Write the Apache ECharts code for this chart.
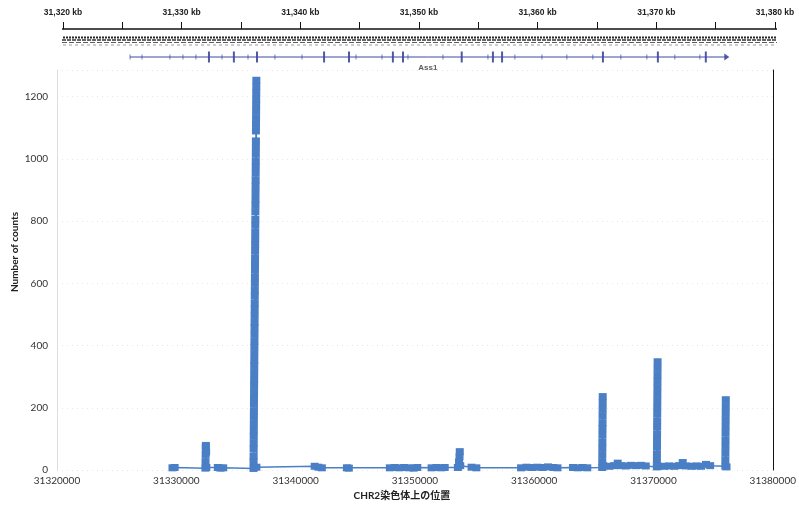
<!DOCTYPE html>
<html>
<head>
<meta charset="utf-8">
<script src="https://cdn.jsdelivr.net/npm/echarts/dist/echarts.min.js"></script>
<style>
  html, body { margin: 0; padding: 0; background: #ffffff; }
  #chart { width: 799px; height: 506px; }
</style>
</head>
<body>
<div id="chart"></div>
<script>
// ---- Ass1 locus read counts along CHR2 (position in bp, count) ----
const exon01 = [[31329680, 7], [31329860, 8]];
const exon02 = [[31332440, 6], [31332450, 27], [31332460, 50], [31332470, 72], [31332480, 79], [31332500, 58], [31332520, 8]];
const exon03 = [[31333480, 8], [31333700, 6], [31333930, 7]];
const exon04 = [
  [31336470, 5], [31336474, 26], [31336478, 44], [31336482, 67], [31336486, 86], [31336490, 108],
  [31336494, 127], [31336498, 149], [31336502, 170], [31336506, 189], [31336510, 211], [31336514, 230],
  [31336518, 252], [31336522, 273], [31336526, 291], [31336530, 313], [31336534, 334], [31336538, 352],
  [31336542, 374], [31336546, 395], [31336550, 414], [31336554, 436], [31336558, 457], [31336562, 475],
  [31336566, 497], [31336570, 518], [31336574, 537], [31336578, 559], [31336582, 578], [31336586, 600],
  [31336590, 620], [31336594, 642], [31336598, 663], [31336602, 682], [31336606, 704], [31336610, 725],
  [31336614, 744], [31336618, 765], [31336622, 787], [31336626, 806], [31336630, 830], [31336634, 851],
  [31336638, 870], [31336642, 892], [31336646, 913], [31336650, 932], [31336654, 954], [31336658, 975],
  [31336662, 994], [31336666, 1016], [31336670, 1037], [31336674, 1058], [31336678, 1090], [31336682, 1111],
  [31336686, 1132], [31336690, 1153], [31336694, 1173], [31336698, 1192], [31336702, 1213], [31336706, 1233],
  [31336710, 1253], [31336714, 9]
];
const exon05 = [[31341600, 12], [31341900, 9], [31342200, 7]];
const exon06 = [[31344300, 7], [31344460, 6]];
const exon07 = [[31347900, 7], [31348300, 8], [31348700, 7], [31349100, 8], [31349500, 7], [31349900, 6], [31350200, 8]];
const exon08 = [[31351400, 7], [31351800, 8], [31352200, 7], [31352500, 8]];
const exon09 = [[31353600, 8], [31353700, 26], [31353740, 42], [31353760, 59], [31353800, 14]];
const exon10 = [[31354750, 9], [31355150, 7]];
const exon11 = [[31358900, 7], [31359350, 9], [31359800, 8], [31360250, 9], [31360700, 8], [31361150, 10], [31361600, 8], [31361950, 7]];
const exon12 = [[31363250, 8], [31363650, 7], [31364050, 8], [31364450, 7]];
const exon13 = [
  [31365700, 8], [31365704, 27], [31365708, 49], [31365712, 70], [31365716, 90], [31365720, 112],
  [31365724, 133], [31365728, 152], [31365732, 174], [31365736, 195], [31365740, 216], [31365744, 236],
  [31365790, 14]
];
const exon14 = [[31366300, 12], [31366700, 14], [31367000, 22], [31367300, 14], [31367700, 13], [31368100, 15], [31368550, 14], [31368950, 15], [31369350, 13]];
const exon15 = [
  [31370280, 10], [31370284, 31], [31370288, 52], [31370292, 74], [31370296, 95], [31370300, 116],
  [31370304, 138], [31370308, 158], [31370312, 180], [31370316, 201], [31370320, 222], [31370324, 243],
  [31370328, 265], [31370332, 286], [31370336, 306], [31370340, 327], [31370344, 348], [31370380, 12]
];
const exon16 = [[31370900, 12], [31371300, 13], [31371750, 12], [31372150, 14], [31372450, 24], [31372750, 13], [31373200, 12], [31373600, 13], [31374000, 12], [31374400, 18], [31374750, 14]];
const exon17 = [
  [31376020, 12], [31376024, 33], [31376028, 55], [31376032, 76], [31376036, 97], [31376040, 119],
  [31376044, 140], [31376048, 162], [31376052, 183], [31376056, 204], [31376060, 226], [31376120, 10]
];

// ---- gene model track (bp) ----
const geneSpan = [31325650, 31375940];
const geneExons = [31332300, 31334400, 31336350, 31342000, 31344100, 31347800, 31348650,
                   31353600, 31356230, 31357000, 31365500, 31370130, 31374170];
const intronMarks = [31325650, 31326660, 31329010, 31330110, 31331200, 31333400, 31335590, 31337860,
                     31340140, 31344690, 31346880, 31349070, 31352020, 31355810, 31358080, 31360360,
                     31362460, 31364650, 31367010, 31369200, 31371560, 31373670];
const rulerSpan = [31316967, 31382005];
const readRows = [8.5, 11, 13.5, 16];
const geneName = 'Ass1';

const countSeries = [].concat(exon01, exon02, exon03, exon04, exon05, exon06, exon07, exon08,
  exon09, exon10, exon11, exon12, exon13, exon14, exon15, exon16, exon17);

const blue = '#4a7fc6';
const geneRow = 28;
const labelRow = 39;

const readStyles = [
  { color: '#262626', width: 2.0, type: [2, 1] },
  { color: '#333333', width: 1.5, type: [4, 1] },
  { color: '#5e5e5e', width: 1.2, type: [5, 2] },
  { color: '#9a9a9a', width: 1.0, type: [3, 3] }
];

const plainNumber = function (v) { return String(v); };

const chart = echarts.init(document.getElementById('chart'), null, { renderer: 'canvas' });

const option = {
  animation: false,
  backgroundColor: '#ffffff',
  grid: [
    { left: 57, right: 22, top: 70, bottom: 35 },
    { left: 63, right: 24, top: 29, height: 40 }
  ],
  xAxis: [
    {
      type: 'value', gridIndex: 0,
      min: 31320000, max: 31380000, interval: 10000,
      axisLine: { show: false },
      axisTick: { show: false },
      splitLine: { show: false },
      axisLabel: { color: '#333', fontSize: 10, fontFamily: 'Lato', margin: 6, formatter: plainNumber },
      name: 'CHR2染色体上の位置',
      nameLocation: 'middle',
      nameGap: 21,
      nameTextStyle: {
        color: '#222', fontSize: 10, fontWeight: 'bold',
        fontFamily: 'Lato, "Noto Sans CJK JP"', padding: [0, 26, 0, 0]
      }
    },
    {
      type: 'value', gridIndex: 1, position: 'top',
      min: 31320000, max: 31380000, interval: 5000,
      axisLine: { show: false },
      axisTick: { show: true, length: 7, lineStyle: { color: '#111', width: 1 } },
      splitLine: { show: false },
      axisLabel: {
        margin: 12, color: '#222', fontSize: 8.5, fontWeight: 'bold', fontFamily: 'Liberation Sans',
        formatter: function (v) {
          return v % 10000 === 0 ? (v / 1000).toLocaleString('en-US') + ' kb' : '';
        }
      }
    }
  ],
  yAxis: [
    {
      type: 'value', gridIndex: 0,
      min: 0, max: 1286, interval: 200,
      axisLine: { show: true, lineStyle: { color: '#dcdcdc' } },
      axisTick: { show: false },
      axisLabel: { color: '#333', fontSize: 10, fontFamily: 'Lato', margin: 9, showMaxLabel: false, formatter: plainNumber },
      splitLine: { show: true, lineStyle: { color: '#e6e6e6', type: [1, 4] } }
    },
    {
      type: 'value', gridIndex: 0, position: 'right',
      min: 0, max: 1286,
      axisLine: { show: true, lineStyle: { color: '#111', width: 1 } },
      axisTick: { show: false },
      axisLabel: { show: false },
      splitLine: { show: false }
    },
    {
      type: 'value', gridIndex: 1, min: 0, max: 40, inverse: true, show: false
    }
  ],
  graphic: [
    {
      type: 'text', x: 15, y: 252, rotation: Math.PI / 2,
      style: {
        text: 'Number of counts', fill: '#222', fontSize: 10, fontWeight: 'bold',
        fontFamily: 'Lato', textAlign: 'center', textVerticalAlign: 'middle'
      }
    }
  ],
  series: [
    {
      name: 'counts', type: 'line', xAxisIndex: 0, yAxisIndex: 0,
      data: countSeries,
      symbol: 'rect', symbolSize: [8, 7], showAllSymbol: true,
      itemStyle: { color: blue },
      lineStyle: { color: blue, width: 1.5 },
      z: 5
    },
    {
      name: 'ruler', type: 'line', xAxisIndex: 1, yAxisIndex: 2, clip: false,
      data: [[rulerSpan[0], 0], [rulerSpan[1], 0]],
      symbol: 'none', lineStyle: { color: '#111', width: 1.3 }
    }
  ].concat(readRows.map(function (row, i) {
    return {
      name: 'reads' + i, type: 'line', xAxisIndex: 1, yAxisIndex: 2, clip: false,
      data: [[rulerSpan[0], row], [rulerSpan[1], row]],
      symbol: 'none', lineStyle: readStyles[i]
    };
  })).concat([
    {
      name: 'gene', type: 'line', xAxisIndex: 1, yAxisIndex: 2, clip: false,
      data: [[geneSpan[0], geneRow], [geneSpan[1], geneRow]],
      symbol: 'none', lineStyle: { color: '#3d4aa3', width: 1 }
    },
    {
      name: 'introns', type: 'scatter', xAxisIndex: 1, yAxisIndex: 2,
      data: intronMarks.map(function (p) { return [p, geneRow]; }),
      symbol: 'rect', symbolSize: [1, 5], itemStyle: { color: '#4b58ad' }
    },
    {
      name: 'exons', type: 'scatter', xAxisIndex: 1, yAxisIndex: 2,
      data: geneExons.map(function (p) { return [p, geneRow]; }),
      symbol: 'rect', symbolSize: [2, 11], itemStyle: { color: '#25308f' }
    },
    {
      name: 'strand', type: 'scatter', xAxisIndex: 1, yAxisIndex: 2,
      data: [[geneSpan[1], geneRow]],
      symbol: 'triangle', symbolRotate: -90, symbolSize: [7, 5], itemStyle: { color: '#25308f' }
    },
    {
      name: 'geneLabel', type: 'scatter', xAxisIndex: 1, yAxisIndex: 2,
      data: [[31350750, labelRow]],
      symbolSize: 0,
      label: {
        show: true, position: 'inside', formatter: geneName,
        color: '#333', fontSize: 8, fontWeight: 'bold', fontFamily: 'Liberation Sans'
      }
    }
  ])
};

chart.setOption(option);
</script>
</body>
</html>
